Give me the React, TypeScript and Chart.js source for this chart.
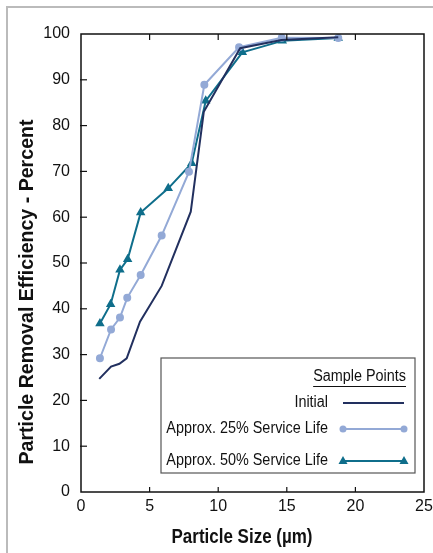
import React, { useEffect, useRef } from "react";
import { Chart, registerables } from "chart.js";

Chart.register(...registerables);

const initialX = [1.33, 2.19, 2.8, 3.33, 4.3, 5.88, 8.0, 8.95, 11.6, 14.6, 18.75];
const initialY = [24.7, 27.4, 28.0, 29.2, 37.2, 45.0, 61.2, 83.0, 96.9, 98.7, 99.3];

const life25X = [1.38, 2.19, 2.84, 3.37, 4.35, 5.88, 7.87, 8.99, 11.52, 14.63, 18.75];
const life25Y = [29.2, 35.5, 38.1, 42.4, 47.4, 56.0, 69.9, 88.9, 97.1, 99.2, 99.1];

const life50X = [1.38, 2.16, 2.84, 3.4, 4.35, 6.36, 8.07, 9.09, 11.76, 14.67, 18.75];
const life50Y = [36.8, 41.0, 48.5, 50.8, 61.0, 66.3, 71.8, 85.4, 96.0, 98.5, 99.1];

const seriesNames = ["Initial", "Approx. 25% Service Life", "Approx. 50% Service Life"];
const legendTitle = "Sample Points";
const xTitle = "Particle Size (µm)";
const yTitle = "Particle Removal Efficiency - Percent";

const NAVY = "#22305f";
const LIGHT = "#93a9d6";
const TEAL = "#0f6e8b";

const SANS = "'Liberation Sans', Arial, Helvetica, sans-serif";

const toPoints = (xs: number[], ys: number[]) => xs.map((x, i) => ({ x, y: ys[i] }));

// draw condensed text by squeezing horizontally
function squeezedText(
  ctx: CanvasRenderingContext2D,
  text: string,
  x: number,
  y: number,
  sx: number,
  align: "left" | "right" | "center"
) {
  ctx.save();
  ctx.translate(x, y);
  ctx.scale(sx, 1);
  ctx.textAlign = align;
  ctx.fillText(text, 0, 0);
  ctx.restore();
}

const framePlugin = {
  id: "frame",
  afterDraw(chart: any) {
    const { ctx, chartArea } = chart;
    const { left, right, top, bottom } = chartArea;
    const xs = chart.scales.x;
    const ys = chart.scales.y;
    ctx.save();
    ctx.strokeStyle = "#111";
    ctx.lineWidth = 1.5;
    ctx.strokeRect(left, top, right - left, bottom - top);
    ctx.lineWidth = 1.2;
    xs.ticks.forEach((t: any) => {
      const px = xs.getPixelForValue(t.value);
      if (px <= left + 1 || px >= right - 1) return;
      ctx.beginPath();
      ctx.moveTo(px, bottom);
      ctx.lineTo(px, bottom - 5);
      ctx.moveTo(px, top);
      ctx.lineTo(px, top + 6);
      ctx.stroke();
    });
    ys.ticks.forEach((t: any) => {
      const py = ys.getPixelForValue(t.value);
      if (py <= top + 1 || py >= bottom - 1) return;
      ctx.beginPath();
      ctx.moveTo(left - 1, py);
      ctx.lineTo(left + 6, py);
      ctx.stroke();
    });

    // axis titles
    ctx.fillStyle = "#111";
    ctx.font = `bold 20px ${SANS}`;
    ctx.textBaseline = "middle";
    const xw = ctx.measureText(xTitle).width;
    squeezedText(ctx, xTitle, 242, 537, 141 / xw, "center");
    const yw = ctx.measureText(yTitle).width;
    ctx.save();
    ctx.translate(27, 292);
    ctx.rotate(-Math.PI / 2);
    squeezedText(ctx, yTitle, 0, 0, 345 / yw, "center");
    ctx.restore();

    // legend box
    const bx = 161, by = 358, bw = 254, bh = 115;
    ctx.fillStyle = "#fff";
    ctx.fillRect(bx, by, bw, bh);
    ctx.strokeStyle = "#555";
    ctx.lineWidth = 1.2;
    ctx.strokeRect(bx, by, bw, bh);

    ctx.fillStyle = "#111";
    ctx.font = `16px ${SANS}`;
    ctx.textBaseline = "middle";
    const SX = 0.9;
    const titleRight = 406;
    squeezedText(ctx, legendTitle, titleRight, 377, SX, "right");
    const tw = ctx.measureText(legendTitle).width * SX;
    ctx.beginPath();
    ctx.lineWidth = 1;
    ctx.strokeStyle = "#111";
    ctx.moveTo(titleRight - tw, 386.5);
    ctx.lineTo(titleRight, 386.5);
    ctx.stroke();

    const rows = [
      { y: 403, color: NAVY, marker: "none" },
      { y: 429, color: LIGHT, marker: "circle" },
      { y: 461, color: TEAL, marker: "triangle" },
    ];
    rows.forEach((r, i) => {
      ctx.fillStyle = "#111";
      squeezedText(ctx, seriesNames[i], 328, r.y, SX, "right");
      ctx.strokeStyle = r.color;
      ctx.lineWidth = 2;
      ctx.beginPath();
      ctx.moveTo(343, r.y);
      ctx.lineTo(404, r.y);
      ctx.stroke();
      ctx.fillStyle = r.color;
      [343, 404].forEach((mx) => {
        if (r.marker === "circle") {
          ctx.beginPath();
          ctx.arc(mx, r.y, 3.5, 0, Math.PI * 2);
          ctx.fill();
        } else if (r.marker === "triangle") {
          ctx.beginPath();
          ctx.moveTo(mx, r.y - 5);
          ctx.lineTo(mx + 4.5, r.y + 3);
          ctx.lineTo(mx - 4.5, r.y + 3);
          ctx.closePath();
          ctx.fill();
        }
      });
    });
    ctx.restore();
  },
};

export default function App() {
  const ref = useRef<HTMLCanvasElement>(null);
  useEffect(() => {
    if (!ref.current) return;
    const chart = new Chart(ref.current, {
      type: "scatter",
      data: {
        datasets: [
          {
            label: seriesNames[0],
            data: toPoints(initialX, initialY),
            showLine: true,
            borderColor: NAVY,
            backgroundColor: NAVY,
            borderWidth: 2,
            pointRadius: 0,
          },
          {
            label: seriesNames[1],
            data: toPoints(life25X, life25Y),
            showLine: true,
            borderColor: LIGHT,
            backgroundColor: LIGHT,
            borderWidth: 2,
            pointRadius: 3,
            pointStyle: "circle",
          },
          {
            label: seriesNames[2],
            data: toPoints(life50X, life50Y),
            showLine: true,
            borderColor: TEAL,
            backgroundColor: TEAL,
            borderWidth: 2,
            pointRadius: 3.5,
            pointStyle: "triangle",
          },
        ],
      },
      options: {
        animation: false,
        responsive: false,
        maintainAspectRatio: false,
        layout: { padding: { top: 34, right: 9, left: 0, bottom: 0 } },
        plugins: { legend: { display: false }, tooltip: { enabled: false } },
        scales: {
          x: {
            type: "linear",
            min: 0,
            max: 25,
            ticks: { stepSize: 5, color: "#111", font: { size: 16, family: SANS }, padding: -3 },
            grid: { display: false },
            border: { display: false },
            afterFit: (s: any) => {
              s.height = 61;
            },
          },
          y: {
            type: "linear",
            min: 0,
            max: 100,
            ticks: { stepSize: 10, color: "#111", font: { size: 16, family: SANS }, padding: 3 },
            grid: { display: false },
            border: { display: false },
            afterFit: (s: any) => {
              s.width = 81;
            },
          },
        },
      },
      plugins: [framePlugin],
    });
    return () => chart.destroy();
  }, []);
  return (
    <div style={{ position: "absolute", left: 0, top: 0, width: 433, height: 553, background: "#fff" }}>
      <canvas ref={ref} width={433} height={553} style={{ position: "absolute", left: 0, top: 0 }} />
      <div
        style={{
          position: "absolute",
          left: 6,
          top: 6,
          right: 0,
          bottom: 0,
          borderLeft: "2px solid #bbb",
          borderTop: "2px solid #bbb",
          pointerEvents: "none",
        }}
      />
    </div>
  );
}
